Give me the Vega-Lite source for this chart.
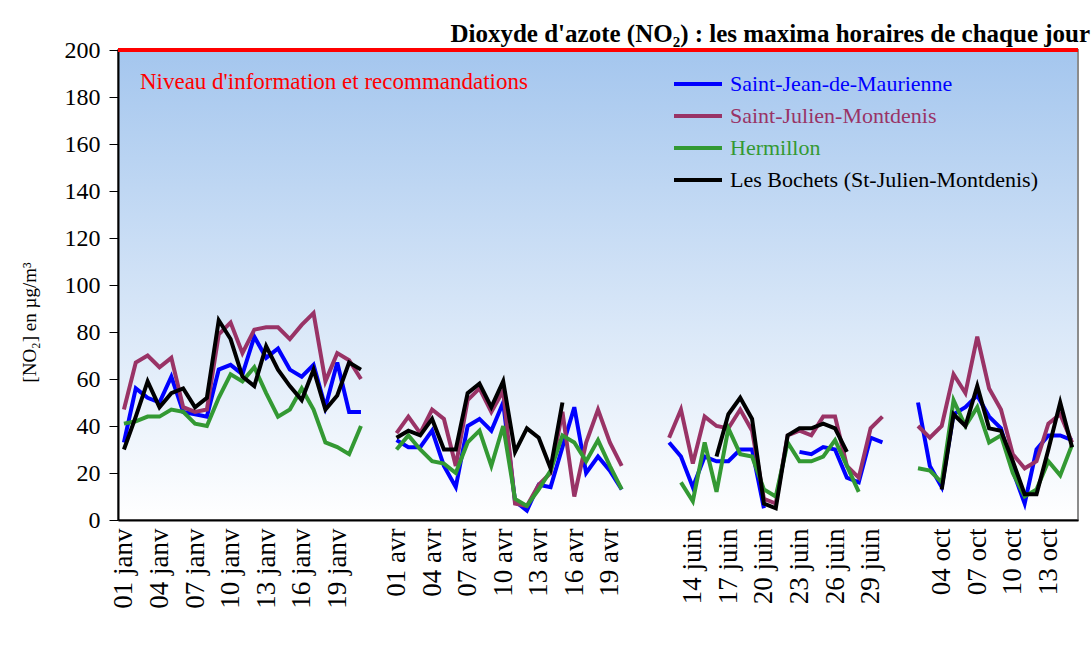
{
  "$schema": "https://vega.github.io/schema/vega-lite/v6.json",
  "autosize": {"type": "none"},
  "padding": {"left": 118, "top": 50, "right": 13, "bottom": 133},
  "width": 960,
  "height": 470,
  "background": "#ffffff",
  "config": {
    "font": "Liberation Serif",
    "view": {
      "stroke": "#8c8c8c",
      "strokeWidth": 2,
      "fill": {"gradient": "linear", "x1": 0, "y1": 0, "x2": 0, "y2": 1,
        "stops": [{"offset": 0, "color": "#a4c6ee"}, {"offset": 1, "color": "#ffffff"}]}
    }
  },
  "title": {
    "text": "Dioxyde d'azote (NO₂) : les maxima horaires de chaque jour",
    "anchor": "end",
    "font": "Liberation Serif",
    "fontWeight": "bold",
    "fontSize": 25,
    "color": "#000000",
    "baseline": "bottom",
    "offset": -34,
    "dx": 10
  },
  "datasets": {
    "no2": [
      {"d": "01 janv", "m": "janv", "Saint-Jean-de-Maurienne": 33, "Saint-Julien-Montdenis": 47, "Hermillon": 41, "Les Bochets (St-Julien-Montdenis)": 30},
      {"d": "02 janv", "m": "janv", "Saint-Jean-de-Maurienne": 56, "Saint-Julien-Montdenis": 67, "Hermillon": 42, "Les Bochets (St-Julien-Montdenis)": 44},
      {"d": "03 janv", "m": "janv", "Saint-Jean-de-Maurienne": 52, "Saint-Julien-Montdenis": 70, "Hermillon": 44, "Les Bochets (St-Julien-Montdenis)": 59},
      {"d": "04 janv", "m": "janv", "Saint-Jean-de-Maurienne": 50, "Saint-Julien-Montdenis": 65, "Hermillon": 44, "Les Bochets (St-Julien-Montdenis)": 48},
      {"d": "05 janv", "m": "janv", "Saint-Jean-de-Maurienne": 61, "Saint-Julien-Montdenis": 69, "Hermillon": 47, "Les Bochets (St-Julien-Montdenis)": 54},
      {"d": "06 janv", "m": "janv", "Saint-Jean-de-Maurienne": 46, "Saint-Julien-Montdenis": 48, "Hermillon": 46, "Les Bochets (St-Julien-Montdenis)": 56},
      {"d": "07 janv", "m": "janv", "Saint-Jean-de-Maurienne": 45, "Saint-Julien-Montdenis": 46, "Hermillon": 41, "Les Bochets (St-Julien-Montdenis)": 48},
      {"d": "08 janv", "m": "janv", "Saint-Jean-de-Maurienne": 44, "Saint-Julien-Montdenis": 47, "Hermillon": 40, "Les Bochets (St-Julien-Montdenis)": 52},
      {"d": "09 janv", "m": "janv", "Saint-Jean-de-Maurienne": 64, "Saint-Julien-Montdenis": 79, "Hermillon": 52, "Les Bochets (St-Julien-Montdenis)": 85},
      {"d": "10 janv", "m": "janv", "Saint-Jean-de-Maurienne": 66, "Saint-Julien-Montdenis": 84, "Hermillon": 62, "Les Bochets (St-Julien-Montdenis)": 77},
      {"d": "11 janv", "m": "janv", "Saint-Jean-de-Maurienne": 62, "Saint-Julien-Montdenis": 71, "Hermillon": 59, "Les Bochets (St-Julien-Montdenis)": 61},
      {"d": "12 janv", "m": "janv", "Saint-Jean-de-Maurienne": 78, "Saint-Julien-Montdenis": 81, "Hermillon": 65, "Les Bochets (St-Julien-Montdenis)": 57},
      {"d": "13 janv", "m": "janv", "Saint-Jean-de-Maurienne": 69, "Saint-Julien-Montdenis": 82, "Hermillon": 54, "Les Bochets (St-Julien-Montdenis)": 74},
      {"d": "14 janv", "m": "janv", "Saint-Jean-de-Maurienne": 73, "Saint-Julien-Montdenis": 82, "Hermillon": 44, "Les Bochets (St-Julien-Montdenis)": 64},
      {"d": "15 janv", "m": "janv", "Saint-Jean-de-Maurienne": 64, "Saint-Julien-Montdenis": 77, "Hermillon": 47, "Les Bochets (St-Julien-Montdenis)": 57},
      {"d": "16 janv", "m": "janv", "Saint-Jean-de-Maurienne": 61, "Saint-Julien-Montdenis": 83, "Hermillon": 56, "Les Bochets (St-Julien-Montdenis)": 51},
      {"d": "17 janv", "m": "janv", "Saint-Jean-de-Maurienne": 66, "Saint-Julien-Montdenis": 88, "Hermillon": 47, "Les Bochets (St-Julien-Montdenis)": 64},
      {"d": "18 janv", "m": "janv", "Saint-Jean-de-Maurienne": 48, "Saint-Julien-Montdenis": 59, "Hermillon": 33, "Les Bochets (St-Julien-Montdenis)": 47},
      {"d": "19 janv", "m": "janv", "Saint-Jean-de-Maurienne": 67, "Saint-Julien-Montdenis": 71, "Hermillon": 31, "Les Bochets (St-Julien-Montdenis)": 53},
      {"d": "20 janv", "m": "janv", "Saint-Jean-de-Maurienne": 46, "Saint-Julien-Montdenis": 68, "Hermillon": 28, "Les Bochets (St-Julien-Montdenis)": 67},
      {"d": "21 janv", "m": "janv", "Saint-Jean-de-Maurienne": 46, "Saint-Julien-Montdenis": 60, "Hermillon": 40, "Les Bochets (St-Julien-Montdenis)": 64},
      {"d": "01 avr", "m": "avr", "Saint-Jean-de-Maurienne": 34, "Saint-Julien-Montdenis": 37, "Hermillon": 30, "Les Bochets (St-Julien-Montdenis)": 35},
      {"d": "02 avr", "m": "avr", "Saint-Jean-de-Maurienne": 31, "Saint-Julien-Montdenis": 44, "Hermillon": 36, "Les Bochets (St-Julien-Montdenis)": 38},
      {"d": "03 avr", "m": "avr", "Saint-Jean-de-Maurienne": 31, "Saint-Julien-Montdenis": 37, "Hermillon": 30, "Les Bochets (St-Julien-Montdenis)": 36},
      {"d": "04 avr", "m": "avr", "Saint-Jean-de-Maurienne": 38, "Saint-Julien-Montdenis": 47, "Hermillon": 25, "Les Bochets (St-Julien-Montdenis)": 43},
      {"d": "05 avr", "m": "avr", "Saint-Jean-de-Maurienne": 23, "Saint-Julien-Montdenis": 43, "Hermillon": 24, "Les Bochets (St-Julien-Montdenis)": 30},
      {"d": "06 avr", "m": "avr", "Saint-Jean-de-Maurienne": 14, "Saint-Julien-Montdenis": 23, "Hermillon": 20, "Les Bochets (St-Julien-Montdenis)": 30},
      {"d": "07 avr", "m": "avr", "Saint-Jean-de-Maurienne": 40, "Saint-Julien-Montdenis": 51, "Hermillon": 33, "Les Bochets (St-Julien-Montdenis)": 54},
      {"d": "08 avr", "m": "avr", "Saint-Jean-de-Maurienne": 43, "Saint-Julien-Montdenis": 56, "Hermillon": 38, "Les Bochets (St-Julien-Montdenis)": 58},
      {"d": "09 avr", "m": "avr", "Saint-Jean-de-Maurienne": 38, "Saint-Julien-Montdenis": 46, "Hermillon": 23, "Les Bochets (St-Julien-Montdenis)": 48},
      {"d": "10 avr", "m": "avr", "Saint-Jean-de-Maurienne": 50, "Saint-Julien-Montdenis": 55, "Hermillon": 40, "Les Bochets (St-Julien-Montdenis)": 59},
      {"d": "11 avr", "m": "avr", "Saint-Jean-de-Maurienne": 8, "Saint-Julien-Montdenis": 7, "Hermillon": 9, "Les Bochets (St-Julien-Montdenis)": 29},
      {"d": "12 avr", "m": "avr", "Saint-Jean-de-Maurienne": 4, "Saint-Julien-Montdenis": 6, "Hermillon": 6, "Les Bochets (St-Julien-Montdenis)": 39},
      {"d": "13 avr", "m": "avr", "Saint-Jean-de-Maurienne": 15, "Saint-Julien-Montdenis": 15, "Hermillon": 13, "Les Bochets (St-Julien-Montdenis)": 35},
      {"d": "14 avr", "m": "avr", "Saint-Jean-de-Maurienne": 14, "Saint-Julien-Montdenis": 20, "Hermillon": 21, "Les Bochets (St-Julien-Montdenis)": 22},
      {"d": "15 avr", "m": "avr", "Saint-Jean-de-Maurienne": 31, "Saint-Julien-Montdenis": 46, "Hermillon": 36, "Les Bochets (St-Julien-Montdenis)": 50},
      {"d": "16 avr", "m": "avr", "Saint-Jean-de-Maurienne": 48, "Saint-Julien-Montdenis": 10, "Hermillon": 33, "Les Bochets (St-Julien-Montdenis)": null},
      {"d": "17 avr", "m": "avr", "Saint-Jean-de-Maurienne": 20, "Saint-Julien-Montdenis": 33, "Hermillon": 25, "Les Bochets (St-Julien-Montdenis)": null},
      {"d": "18 avr", "m": "avr", "Saint-Jean-de-Maurienne": 27, "Saint-Julien-Montdenis": 47, "Hermillon": 34, "Les Bochets (St-Julien-Montdenis)": null},
      {"d": "19 avr", "m": "avr", "Saint-Jean-de-Maurienne": 21, "Saint-Julien-Montdenis": 33, "Hermillon": 23, "Les Bochets (St-Julien-Montdenis)": null},
      {"d": "20 avr", "m": "avr", "Saint-Jean-de-Maurienne": 13, "Saint-Julien-Montdenis": 23, "Hermillon": 13, "Les Bochets (St-Julien-Montdenis)": null},
      {"d": "12 juin", "m": "juin", "Saint-Jean-de-Maurienne": 33, "Saint-Julien-Montdenis": 35, "Hermillon": null, "Les Bochets (St-Julien-Montdenis)": null},
      {"d": "13 juin", "m": "juin", "Saint-Jean-de-Maurienne": 27, "Saint-Julien-Montdenis": 47, "Hermillon": 16, "Les Bochets (St-Julien-Montdenis)": null},
      {"d": "14 juin", "m": "juin", "Saint-Jean-de-Maurienne": 14, "Saint-Julien-Montdenis": 24, "Hermillon": 8, "Les Bochets (St-Julien-Montdenis)": null},
      {"d": "15 juin", "m": "juin", "Saint-Jean-de-Maurienne": 27, "Saint-Julien-Montdenis": 44, "Hermillon": 33, "Les Bochets (St-Julien-Montdenis)": null},
      {"d": "16 juin", "m": "juin", "Saint-Jean-de-Maurienne": 25, "Saint-Julien-Montdenis": 40, "Hermillon": 12, "Les Bochets (St-Julien-Montdenis)": 27},
      {"d": "17 juin", "m": "juin", "Saint-Jean-de-Maurienne": 25, "Saint-Julien-Montdenis": 39, "Hermillon": 39, "Les Bochets (St-Julien-Montdenis)": 45},
      {"d": "18 juin", "m": "juin", "Saint-Jean-de-Maurienne": 30, "Saint-Julien-Montdenis": 47, "Hermillon": 28, "Les Bochets (St-Julien-Montdenis)": 52},
      {"d": "19 juin", "m": "juin", "Saint-Jean-de-Maurienne": 30, "Saint-Julien-Montdenis": 38, "Hermillon": 27, "Les Bochets (St-Julien-Montdenis)": 43},
      {"d": "20 juin", "m": "juin", "Saint-Jean-de-Maurienne": 5, "Saint-Julien-Montdenis": 9, "Hermillon": 13, "Les Bochets (St-Julien-Montdenis)": 7},
      {"d": "21 juin", "m": "juin", "Saint-Jean-de-Maurienne": null, "Saint-Julien-Montdenis": 7, "Hermillon": 10, "Les Bochets (St-Julien-Montdenis)": 5},
      {"d": "22 juin", "m": "juin", "Saint-Jean-de-Maurienne": null, "Saint-Julien-Montdenis": 36, "Hermillon": 33, "Les Bochets (St-Julien-Montdenis)": 36},
      {"d": "23 juin", "m": "juin", "Saint-Jean-de-Maurienne": 29, "Saint-Julien-Montdenis": 38, "Hermillon": 25, "Les Bochets (St-Julien-Montdenis)": 39},
      {"d": "24 juin", "m": "juin", "Saint-Jean-de-Maurienne": 28, "Saint-Julien-Montdenis": 36, "Hermillon": 25, "Les Bochets (St-Julien-Montdenis)": 39},
      {"d": "25 juin", "m": "juin", "Saint-Jean-de-Maurienne": 31, "Saint-Julien-Montdenis": 44, "Hermillon": 27, "Les Bochets (St-Julien-Montdenis)": 41},
      {"d": "26 juin", "m": "juin", "Saint-Jean-de-Maurienne": 30, "Saint-Julien-Montdenis": 44, "Hermillon": 34, "Les Bochets (St-Julien-Montdenis)": 39},
      {"d": "27 juin", "m": "juin", "Saint-Jean-de-Maurienne": 18, "Saint-Julien-Montdenis": 23, "Hermillon": 23, "Les Bochets (St-Julien-Montdenis)": 29},
      {"d": "28 juin", "m": "juin", "Saint-Jean-de-Maurienne": 16, "Saint-Julien-Montdenis": 18, "Hermillon": 12, "Les Bochets (St-Julien-Montdenis)": null},
      {"d": "29 juin", "m": "juin", "Saint-Jean-de-Maurienne": 35, "Saint-Julien-Montdenis": 39, "Hermillon": null, "Les Bochets (St-Julien-Montdenis)": null},
      {"d": "30 juin", "m": "juin", "Saint-Jean-de-Maurienne": 33, "Saint-Julien-Montdenis": 44, "Hermillon": null, "Les Bochets (St-Julien-Montdenis)": null},
      {"d": "02 oct", "m": "oct", "Saint-Jean-de-Maurienne": 50, "Saint-Julien-Montdenis": 40, "Hermillon": 22, "Les Bochets (St-Julien-Montdenis)": null},
      {"d": "03 oct", "m": "oct", "Saint-Jean-de-Maurienne": 23, "Saint-Julien-Montdenis": 35, "Hermillon": 21, "Les Bochets (St-Julien-Montdenis)": null},
      {"d": "04 oct", "m": "oct", "Saint-Jean-de-Maurienne": 14, "Saint-Julien-Montdenis": 40, "Hermillon": 16, "Les Bochets (St-Julien-Montdenis)": 13},
      {"d": "05 oct", "m": "oct", "Saint-Jean-de-Maurienne": 45, "Saint-Julien-Montdenis": 62, "Hermillon": 51, "Les Bochets (St-Julien-Montdenis)": 45},
      {"d": "06 oct", "m": "oct", "Saint-Jean-de-Maurienne": 48, "Saint-Julien-Montdenis": 54, "Hermillon": 40, "Les Bochets (St-Julien-Montdenis)": 40},
      {"d": "07 oct", "m": "oct", "Saint-Jean-de-Maurienne": 53, "Saint-Julien-Montdenis": 78, "Hermillon": 48, "Les Bochets (St-Julien-Montdenis)": 57},
      {"d": "08 oct", "m": "oct", "Saint-Jean-de-Maurienne": 44, "Saint-Julien-Montdenis": 56, "Hermillon": 33, "Les Bochets (St-Julien-Montdenis)": 39},
      {"d": "09 oct", "m": "oct", "Saint-Jean-de-Maurienne": 39, "Saint-Julien-Montdenis": 47, "Hermillon": 36, "Les Bochets (St-Julien-Montdenis)": 38},
      {"d": "10 oct", "m": "oct", "Saint-Jean-de-Maurienne": 21, "Saint-Julien-Montdenis": 28, "Hermillon": 20, "Les Bochets (St-Julien-Montdenis)": 25},
      {"d": "11 oct", "m": "oct", "Saint-Jean-de-Maurienne": 7, "Saint-Julien-Montdenis": 22, "Hermillon": 10, "Les Bochets (St-Julien-Montdenis)": 11},
      {"d": "12 oct", "m": "oct", "Saint-Jean-de-Maurienne": 30, "Saint-Julien-Montdenis": 25, "Hermillon": 13, "Les Bochets (St-Julien-Montdenis)": 11},
      {"d": "13 oct", "m": "oct", "Saint-Jean-de-Maurienne": 36, "Saint-Julien-Montdenis": 41, "Hermillon": 25, "Les Bochets (St-Julien-Montdenis)": 30},
      {"d": "14 oct", "m": "oct", "Saint-Jean-de-Maurienne": 36, "Saint-Julien-Montdenis": 45, "Hermillon": 19, "Les Bochets (St-Julien-Montdenis)": 50},
      {"d": "15 oct", "m": "oct", "Saint-Jean-de-Maurienne": 34, "Saint-Julien-Montdenis": 33, "Hermillon": 32, "Les Bochets (St-Julien-Montdenis)": 31}
    ],
    "seuil": [
      {"level": 200, "label": "Niveau d'information et recommandations", "at": "01 janv", "pos": 186.5}
    ]
  },
  "layer": [
    {
      "data": {"name": "no2"},
      "transform": [
        {"fold": ["Saint-Jean-de-Maurienne", "Saint-Julien-Montdenis", "Hermillon", "Les Bochets (St-Julien-Montdenis)"], "as": ["s", "v"]}
      ],
      "mark": {"type": "line", "strokeWidth": 4, "invalid": "break-paths-show-domains"},
      "encoding": {
        "x": {
          "field": "d",
          "type": "nominal",
          "sort": null,
          "scale": {
            "type": "point",
            "padding": 0.5,
            "domain": ["01 janv","02 janv","03 janv","04 janv","05 janv","06 janv","07 janv","08 janv","09 janv","10 janv","11 janv","12 janv","13 janv","14 janv","15 janv","16 janv","17 janv","18 janv","19 janv","20 janv","21 janv","g1","g2",
              "01 avr","02 avr","03 avr","04 avr","05 avr","06 avr","07 avr","08 avr","09 avr","10 avr","11 avr","12 avr","13 avr","14 avr","15 avr","16 avr","17 avr","18 avr","19 avr","20 avr","g3","g4","g5",
              "12 juin","13 juin","14 juin","15 juin","16 juin","17 juin","18 juin","19 juin","20 juin","21 juin","22 juin","23 juin","24 juin","25 juin","26 juin","27 juin","28 juin","29 juin","30 juin","g6","g7",
              "02 oct","03 oct","04 oct","05 oct","06 oct","07 oct","08 oct","09 oct","10 oct","11 oct","12 oct","13 oct","14 oct","15 oct"]
          },
          "axis": {
            "title": null,
            "values": ["01 janv","04 janv","07 janv","10 janv","13 janv","16 janv","19 janv","01 avr","04 avr","07 avr","10 avr","13 avr","16 avr","19 avr","14 juin","17 juin","20 juin","23 juin","26 juin","29 juin","04 oct","07 oct","10 oct","13 oct"],
            "labelAngle": 270,
            "labelAlign": "right",
            "labelBaseline": "middle",
            "labelFont": "Liberation Serif",
            "labelFontSize": 27,
            "labelColor": "#000000",
            "labelPadding": 8,
            "ticks": false,
            "grid": false,
            "domainColor": "#000000",
            "domainWidth": 2
          }
        },
        "y": {
          "field": "v",
          "type": "quantitative",
          "scale": {"domain": [0, 200], "nice": false},
          "axis": {
            "title": "[NO₂] en µg/m³",
            "titleFont": "Liberation Serif",
            "titleFontSize": 19,
            "titleFontWeight": "normal",
            "titleColor": "#000000",
            "titleX": -89,
            "titleY": 272,
            "titleBaseline": "middle",
            "values": [0, 20, 40, 60, 80, 100, 120, 140, 160, 180, 200],
            "labelFont": "Liberation Serif",
            "labelFontSize": 24,
            "labelColor": "#000000",
            "labelPadding": 9,
            "tickColor": "#000000",
            "tickSize": 9,
            "domainColor": "#000000",
            "domainWidth": 2,
            "grid": false
          }
        },
        "color": {
          "field": "s",
          "type": "nominal",
          "scale": {
            "domain": ["Saint-Jean-de-Maurienne", "Saint-Julien-Montdenis", "Hermillon", "Les Bochets (St-Julien-Montdenis)"],
            "range": ["#0000ff", "#993366", "#339933", "#000000"]
          },
          "legend": {
            "title": null,
            "orient": "none",
            "legendX": 562,
            "legendY": 16,
            "padding": 0,
            "rowPadding": 3,
            "symbolType": "M-1.5,0H1.5",
            "symbolSize": 1024,
            "symbolStrokeWidth": 4,
            "labelFont": "Liberation Serif",
            "labelFontSize": 22,
            "labelOffset": 14,
            "labelLimit": 500,
            "encode": {"labels": {"update": {"fill": {"scale": "color", "field": "value"}}}}
          }
        },
        "detail": {"field": "m", "type": "nominal"}
      }
    },
    {
      "data": {"name": "seuil"},
      "mark": {"type": "rule", "color": "#ff0000", "strokeWidth": 4},
      "encoding": {"y": {"field": "level", "type": "quantitative"}}
    },
    {
      "data": {"name": "seuil"},
      "mark": {"type": "text", "color": "#ff0000", "font": "Liberation Serif", "fontSize": 23, "align": "left", "baseline": "middle", "dx": 16},
      "encoding": {
        "x": {"field": "at", "type": "nominal"},
        "y": {"field": "pos", "type": "quantitative"},
        "text": {"field": "label"}
      }
    }
  ]
}
